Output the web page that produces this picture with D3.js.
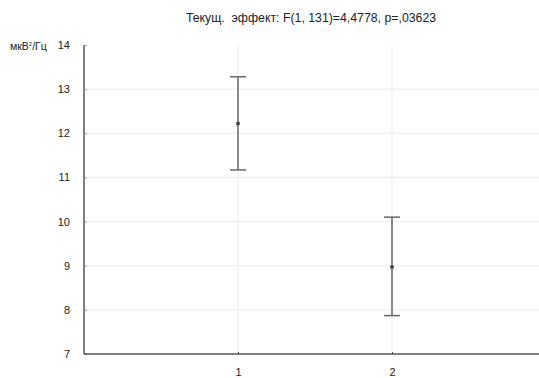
<!DOCTYPE html>
<html>
<head>
<meta charset="utf-8">
<script src="https://cdn.jsdelivr.net/npm/d3@7"></script>
<style>
  body { margin: 0; background: #fff; }
  svg { display: block; font-family: "Liberation Sans", Arial, sans-serif; }
</style>
</head>
<body>
<div id="chart"></div>
<script>
// groups and their means with confidence limits
var groups = [1, 2];
var means = [12.22, 8.97];
var lower = [11.17, 7.87];
var upper = [13.28, 10.1];
var yTicks = [7, 8, 9, 10, 11, 12, 13, 14];

var width = 539, height = 378;

var svg = d3.select("#chart").append("svg")
  .attr("width", width)
  .attr("height", height);

var x = d3.scaleLinear().domain([0, 3]).range([84, 546]);
var y = d3.scaleLinear().domain([7, 14]).range([354, 45]);

// grid lines
svg.selectAll(".hgrid")
  .data(yTicks.filter(function(d) { return d > 7 && d < 14; }))
  .enter().append("line")
  .attr("x1", x(0)).attr("x2", width)
  .attr("y1", function(d) { return y(d); })
  .attr("y2", function(d) { return y(d); })
  .attr("stroke", "#ebebeb").attr("stroke-width", 1);

svg.selectAll(".vgrid")
  .data(groups)
  .enter().append("line")
  .attr("x1", function(d) { return x(d); })
  .attr("x2", function(d) { return x(d); })
  .attr("y1", y(14)).attr("y2", y(7))
  .attr("stroke", "#ebebeb").attr("stroke-width", 1);

// y axis
var yAxis = d3.axisLeft(y).tickValues(yTicks).tickFormat(d3.format("d")).tickSize(-3).tickPadding(14);
var gy = svg.append("g").attr("transform", "translate(" + x(0) + ",0)").call(yAxis);
gy.select(".domain").attr("stroke", "#555").attr("stroke-width", 1.5).attr("d", "M0," + y(14) + "V" + y(7));
gy.selectAll(".tick line").attr("stroke", "#999");
gy.selectAll("text").attr("font-size", 11).attr("fill", "#222");

// x axis
var xAxis = d3.axisBottom(x).tickValues(groups).tickFormat(d3.format("d")).tickSize(-2).tickPadding(14);
var gx = svg.append("g").attr("transform", "translate(0," + y(7) + ")").call(xAxis);
gx.select(".domain").attr("stroke", "#555").attr("stroke-width", 1.5).attr("d", "M" + x(0) + ",0H" + width);
gx.selectAll(".tick line").attr("stroke", "#444");
gx.selectAll("text").attr("font-size", 11).attr("fill", "#222");

// y unit label
svg.append("text")
  .attr("x", 10).attr("y", 50)
  .attr("font-size", 10.5).attr("fill", "#222")
  .html('мкВ<tspan dy="-4" font-size="6">2</tspan><tspan dy="4">/Гц</tspan>');

// title
svg.append("text")
  .attr("x", 311).attr("y", 22)
  .attr("text-anchor", "middle")
  .attr("font-size", 12.3).attr("fill", "#222")
  .attr("xml:space", "preserve")
  .text("Текущ.  эффект: F(1, 131)=4,4778, p=,03623");

// error bars
var capW = 8;
var bars = svg.selectAll(".err").data(groups).enter().append("g");
bars.append("line")
  .attr("x1", function(d) { return x(d); })
  .attr("x2", function(d) { return x(d); })
  .attr("y1", function(d, i) { return y(upper[i]); })
  .attr("y2", function(d, i) { return y(lower[i]); })
  .attr("stroke", "#666").attr("stroke-width", 1.5);
bars.append("line")
  .attr("x1", function(d) { return x(d) - capW; })
  .attr("x2", function(d) { return x(d) + capW; })
  .attr("y1", function(d, i) { return y(upper[i]); })
  .attr("y2", function(d, i) { return y(upper[i]); })
  .attr("stroke", "#666").attr("stroke-width", 1.5);
bars.append("line")
  .attr("x1", function(d) { return x(d) - capW; })
  .attr("x2", function(d) { return x(d) + capW; })
  .attr("y1", function(d, i) { return y(lower[i]); })
  .attr("y2", function(d, i) { return y(lower[i]); })
  .attr("stroke", "#666").attr("stroke-width", 1.5);
bars.append("circle")
  .attr("cx", function(d) { return x(d); })
  .attr("cy", function(d, i) { return y(means[i]); })
  .attr("r", 2)
  .attr("fill", "#444");
</script>
</body>
</html>
